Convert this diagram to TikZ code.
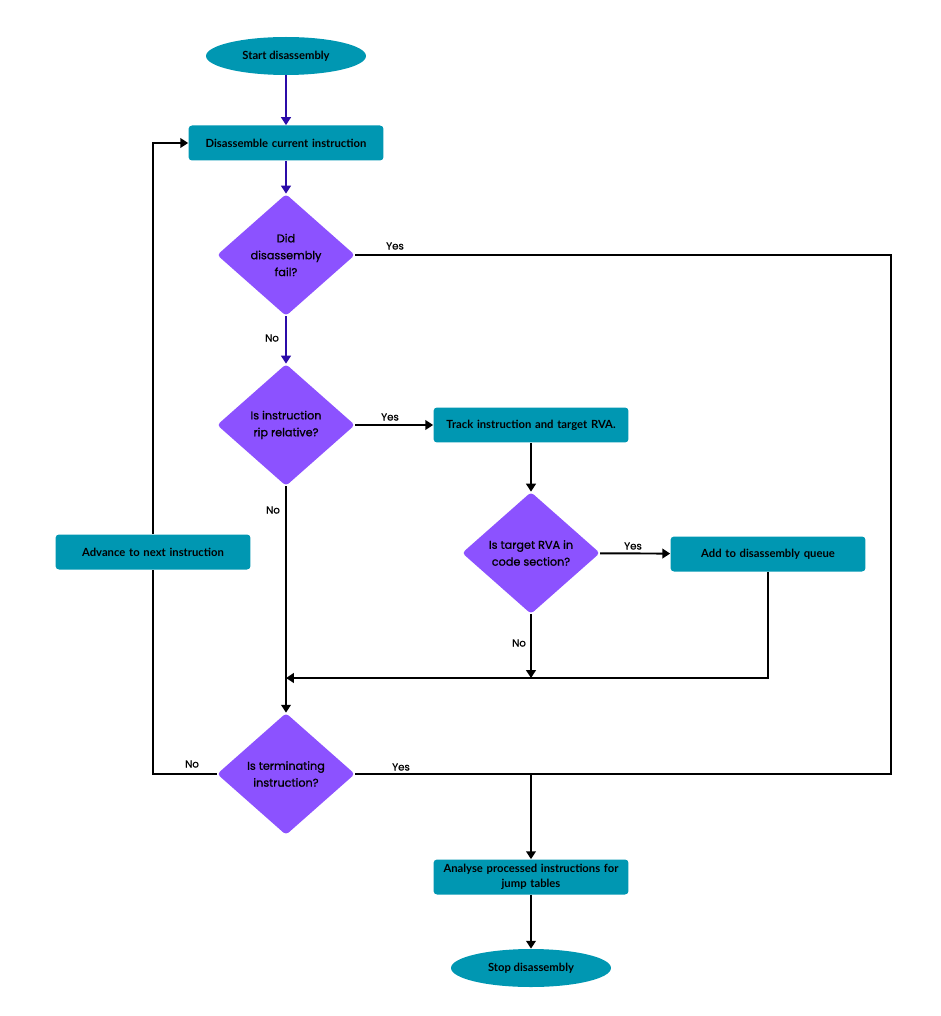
\documentclass[tikz,border=0pt]{standalone}
\usepackage{fontspec}
\setmainfont{Lato}
\newfontfamily\popfont[FakeBold=0.8]{Poppins}
\usetikzlibrary{shapes.geometric,arrows.meta}
\definecolor{boxteal}{HTML}{0097B2}
\definecolor{decpurple}{HTML}{8C52FF}
\definecolor{flowblue}{HTML}{2B0CA8}
\newcommand{\farx}{891}
\newcommand{\termy}{774}
\newcommand{\rejoiny}{678}

\begin{document}
\begin{tikzpicture}[x=0.02cm,y=-0.02cm]
\tikzstyle{procbox}=[fill=boxteal,rounded corners=2pt,minimum width=3.9cm,minimum height=0.7cm,inner sep=2pt,align=center,text width=3.75cm,font=\fontsize{6.4}{8.6}\selectfont\bfseries]
\tikzstyle{terminal}=[ellipse,fill=boxteal,minimum width=3.2cm,minimum height=0.76cm,inner sep=0pt,font=\fontsize{6.4}{8.6}\selectfont\bfseries]
\tikzstyle{decision}=[diamond,fill=decpurple,rounded corners=2pt,aspect=1.1,inner sep=0pt,minimum width=2.76cm,minimum height=2.44cm,align=center,font=\popfont\fontsize{6.4}{9.6}\selectfont]
\tikzstyle{flow}=[line width=1.1pt,-{Triangle[width=5.5pt,length=4.5pt]}]
\tikzstyle{firstflow}=[flow,draw=flowblue]
\tikzstyle{link}=[line width=1.1pt]
\tikzstyle{answer}=[inner sep=0pt,font=\popfont\fontsize{5.8}{7}\selectfont]

\useasboundingbox (0,0) rectangle (940,1016);

\node (start)   [terminal] at (286,56) {Start disassembly};
\node (disasm)  [procbox] at (286,143) {Disassemble current instruction};
\node (failed)  [decision] at (286,255) {Did\\disassembly\\fail?};
\node (riprel)  [decision] at (286,425) {Is instruction\\rip relative?};
\node (track)   [procbox] at (531,425) {Track instruction and target RVA.};
\node (incode)  [decision] at (531,553) {Is target RVA in\\code section?};
\node (enqueue) [procbox] at (768,554) {Add to disassembly queue};
\node (advance) [procbox] at (153,552) {Advance to next instruction};
\node (termin)  [decision] at (286,\termy) {Is terminating\\instruction?};
\node (analyse) [procbox] at (531,877) {Analyse processed instructions for\\jump tables};
\node (stop)    [terminal] at (531,968) {Stop disassembly};

\coordinate (farright) at (\farx,\termy);
\coordinate (merge) at (531,\termy);
\coordinate (rejoin) at (286,\rejoiny);
\coordinate (codeno) at (531,\rejoiny);

% main line down
\draw[firstflow] (start) -- (disasm);
\draw[firstflow] (disasm) -- (failed);
\draw[firstflow] (failed) -- (riprel);
\node (nofail) [answer] at (272,338) {No};

\draw[link] (failed.east) -| (farright) -- (merge);
\node (yesfail) [answer] at (395,246) {Yes};

\draw[flow] (riprel) -- (track);
\node (yesrip) [answer] at (390,417) {Yes};
\draw[flow] (riprel) -- (termin);
\node (norip) [answer] at (273,510) {No};

\draw[flow] (track) -- (incode);
\draw[flow] (incode) -- (enqueue);
\node (yescode) [answer] at (633,546) {Yes};
\draw[flow] (incode) -- (codeno);
\node (nocode) [answer] at (519,643) {No};
\draw[flow] (enqueue.south) |- (rejoin);

\draw[link] (termin.east) -- (merge);
\node (yesterm) [answer] at (401,767) {Yes};
\draw[flow] (merge) -- (analyse);
\draw[flow] (analyse) -- (stop);

% loop back to the top
\draw[link] (termin.west) -| (advance.south);
\node (noterm) [answer] at (192,764) {No};
\draw[flow] (advance.north) |- (disasm.west);

\end{tikzpicture}
\end{document}
